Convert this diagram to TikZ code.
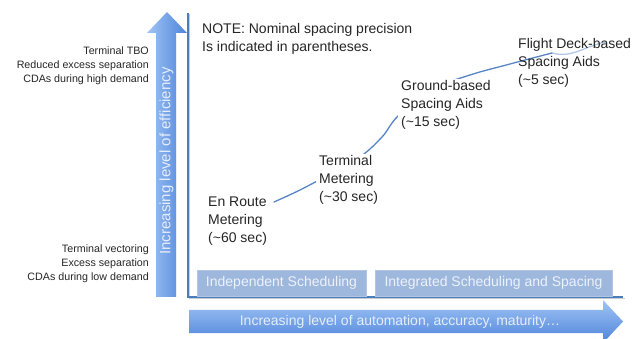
\documentclass[tikz,border=0pt]{standalone}
\usepackage{fontspec}
\setmainfont{Liberation Sans}
\pgfdeclarelayer{back}
\pgfsetlayers{back,main}
\definecolor{arrowlight}{RGB}{160,196,245}
\definecolor{arrowdark}{RGB}{78,132,218}
\definecolor{axisblue}{RGB}{74,126,187}
\definecolor{axisshade}{RGB}{200,205,212}
\definecolor{boxfill}{RGB}{158,184,221}
\definecolor{boxedge}{RGB}{178,198,228}
\definecolor{boxtext}{RGB}{236,241,250}
\definecolor{arrowtext}{RGB}{228,237,251}
\definecolor{trendblue}{RGB}{86,132,198}
\definecolor{textgray}{RGB}{38,38,38}
\begin{document}
\begin{tikzpicture}[x=1pt,y=-1pt,
  stage/.style={anchor=north west, align=left, font=\fontsize{14}{18}\selectfont,
    text=textgray, fill=white, inner xsep=3pt, inner ysep=1pt},
  sidenote/.style={anchor=north east, align=right,
    font=\fontsize{10.7}{13.8}\selectfont, text=textgray, inner sep=0pt},
  phase/.style={fill=boxfill, draw=boxedge, line width=0.8pt, minimum height=26pt,
    font=\fontsize{14}{14}\selectfont, text=boxtext, inner sep=0pt},
  axisline/.style={draw=axisblue, line width=1.2pt},
  axisshadow/.style={draw=axisshade, line width=1.2pt},
  trend/.style={draw=trendblue, line width=1.3pt, line cap=round},
  arrowlabel/.style={text=arrowtext, inner sep=0pt}]
\useasboundingbox (0,0) rectangle (643,339);

% efficiency arrow (vertical)
\shade[left color=arrowlight, right color=arrowdark]
  (156,297) -- (156,33) -- (147,33) -- (167,12) -- (187,33) -- (176,33) -- (176,297) -- cycle;
\node[arrowlabel, rotate=90, font=\fontsize{15}{15}\selectfont] (effl) at (166.5,161)
  {Increasing level of efficiency};

% automation arrow (horizontal)
\shade[top color=arrowlight, bottom color=arrowdark]
  (189,310) -- (603,310) -- (603,300) -- (623,321.5) -- (603,343) -- (603,333) -- (189,333) -- cycle;
\node[arrowlabel, font=\fontsize{14}{14}\selectfont] (autol) at (400,322)
  {Increasing level of automation, accuracy, maturity…};

% axes
\coordinate (top) at (188,13);
\coordinate (origin) at (188,297);
\coordinate (right) at (623,297);
\draw[axisshadow] ([xshift=1.5pt,yshift=-1.5pt]top) -- ([xshift=1.5pt,yshift=-1.5pt]origin)
  -- ([xshift=1.5pt,yshift=-1.5pt]right);
\draw[axisline] (top) -- (origin) -- (right);

% phases
\node[phase, minimum width=169pt] (indep) at (281.5,283) {Independent Scheduling};
\node[phase, minimum width=237pt] (integ) at (493.5,283) {Integrated Scheduling and Spacing};

% side notes
\node[sidenote] (high) at (149,47) {Terminal TBO\\Reduced excess separation\\CDAs during high demand};
\node[sidenote] (low) at (149,245) {Terminal vectoring\\Excess separation\\CDAs during low demand};

% note
\node[stage] (note) at (199,22) {NOTE: Nominal spacing precision\\Is indicated in parentheses.};

% stages
\node[stage] (enroute) at (205,196) {En Route\\Metering\\(\textasciitilde 60 sec)};
\node[stage] (terminal) at (316,154) {Terminal\\Metering\\(\textasciitilde 30 sec)};
\node[stage] (ground) at (398,79) {Ground-based\\Spacing Aids\\(\textasciitilde 15 sec)};
\node[stage, fill=none] (flight) at (515,37) {Flight Deck-based\\Spacing Aids\\(\textasciitilde 5 sec)};

% trend curve through the stages
\coordinate (k0) at (274,202);
\coordinate (k1) at (300,190);
\coordinate (k2) at (330,174);
\coordinate (k3) at (360,157);
\coordinate (k4) at (382,137);
\coordinate (k5) at (398,116);
\coordinate (k6) at (430,90);
\coordinate (k7) at (470,75);
\coordinate (k8) at (510,64);
\coordinate (k9) at (552,53);
\coordinate (k10) at (606,42);
\begin{pgfonlayer}{back}
\draw[trend] plot[smooth, tension=0.6] coordinates {(k0) (k1) (k2) (k3) (k4) (k5) (k6) (k7) (k8) (k9)};
\draw[trend, draw opacity=0.45] (k9) to[out=-15,in=190] (k10);
\end{pgfonlayer}
\end{tikzpicture}
\end{document}
